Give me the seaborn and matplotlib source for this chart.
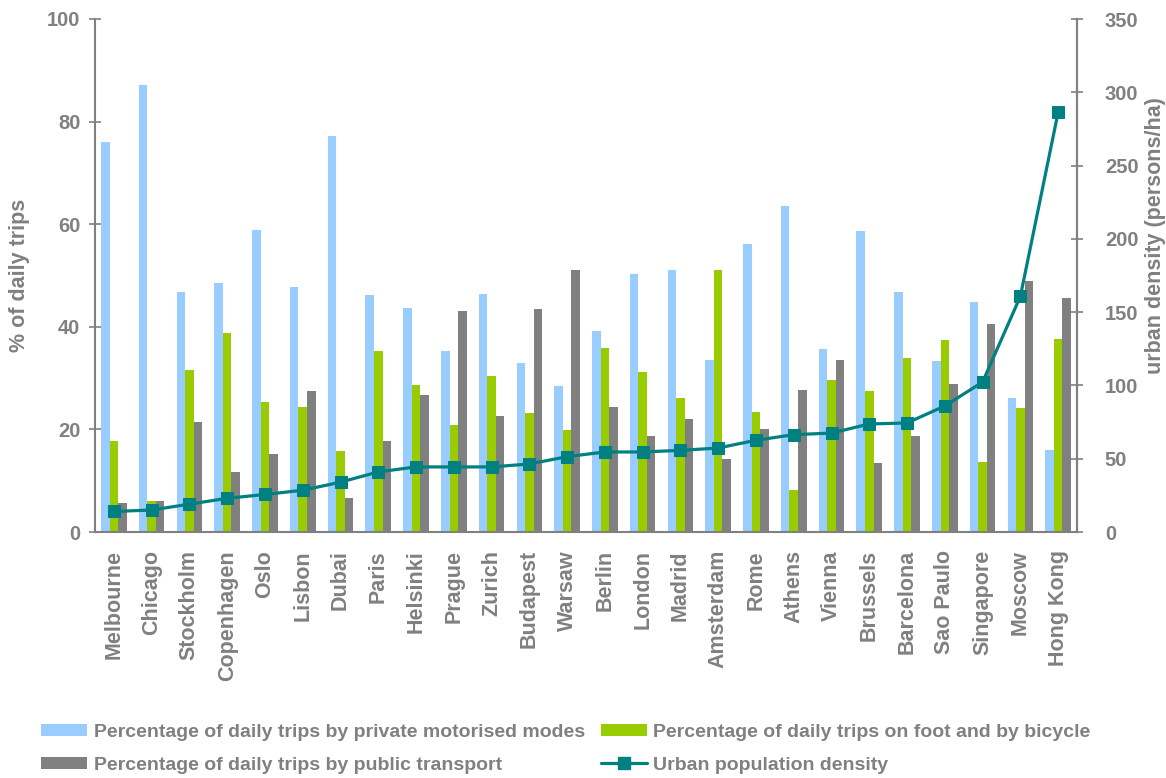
import numpy as np
import pandas as pd
import matplotlib
matplotlib.use("Agg")
import matplotlib.pyplot as plt
from matplotlib.patches import Patch
from matplotlib.lines import Line2D
import seaborn as sns

cities = ["Melbourne", "Chicago", "Stockholm", "Copenhagen", "Oslo", "Lisbon", "Dubai",
          "Paris", "Helsinki", "Prague", "Zurich", "Budapest", "Warsaw", "Berlin",
          "London", "Madrid", "Amsterdam", "Rome", "Athens", "Vienna", "Brussels",
          "Barcelona", "Sao Paulo", "Singapore", "Moscow", "Hong Kong"]

private_motorised = [76.1, 87.2, 46.8, 48.6, 58.9, 47.8, 77.1, 46.2, 43.7, 35.3, 46.3,
                     33.0, 28.5, 39.1, 50.2, 51.1, 33.6, 56.2, 63.6, 35.7, 58.7, 46.7,
                     33.4, 44.9, 26.1, 16.0]
foot_bicycle = [17.7, 6.0, 31.5, 38.8, 25.4, 24.4, 15.8, 35.3, 28.7, 20.9, 30.5, 23.1,
                19.8, 35.9, 31.1, 26.2, 51.1, 23.3, 8.1, 29.6, 27.4, 34.0, 37.5, 13.6,
                24.2, 37.7]
public_transport = [5.6, 6.0, 21.5, 11.7, 15.3, 27.4, 6.7, 17.7, 26.8, 43.1, 22.7, 43.5,
                    51.1, 24.4, 18.8, 22.1, 14.3, 20.1, 27.6, 33.6, 13.5, 18.8, 28.8,
                    40.6, 49.0, 45.7]
density = [14, 15, 19, 23, 25.6, 28.5, 34, 41, 44.4, 44.4, 44.4, 46.4, 51.4, 54.6, 54.6,
           55.7, 57.3, 62.6, 66.4, 67.5, 73.7, 74.4, 86, 102.3, 160.7, 286.3]

series_names = ["Percentage of daily trips by private motorised modes",
                "Percentage of daily trips on foot and by bicycle",
                "Percentage of daily trips by public transport"]
line_name = "Urban population density"
left_title = "% of daily trips"
right_title = "urban density (persons/ha)"
left_ticks = [0, 20, 40, 60, 80, 100]
right_ticks = [0, 50, 100, 150, 200, 250, 300, 350]

BLUE, GREEN, GREY, TEAL = "#99CCFF", "#99CC00", "#808080", "#008080"
TXT = "#808080"
W, H = 1166, 778

sns.set_theme(style="white")
plt.rcParams["font.family"] = ["Liberation Sans", "DejaVu Sans"]
plt.rcParams["font.weight"] = "bold"

df = pd.DataFrame({
    "city": cities * 3,
    "mode": np.repeat(series_names, len(cities)),
    "pct": private_motorised + foot_bicycle + public_transport,
})

fig = plt.figure(figsize=(W / 100, H / 100), dpi=100)
ax = fig.add_axes([95 / W, 1 - 532 / H, (1077 - 95) / W, (532 - 19) / H])

# grouped bars: one colour per travel mode
sns.barplot(data=df, x="city", y="pct", hue="mode", hue_order=series_names,
            palette=[BLUE, GREEN, GREY], saturation=1, width=0.68, gap=0,
            errorbar=None, ax=ax, legend=False, linewidth=0)

n = len(cities)
ax.set_xlim(-0.5, n - 0.5)
ax.set_ylim(0, 100)
ax.set_yticks(left_ticks)
ax.set_yticklabels([str(t) for t in left_ticks])
ax.set_xticks(np.arange(n))
ax.set_xticklabels(cities, rotation=90, fontsize=15.5, fontweight="bold", color=TXT)
ax.set_xticks(np.arange(n + 1) - 0.5, minor=True)
ax.tick_params(axis="x", which="major", length=0, pad=13)
ax.tick_params(axis="x", which="minor", direction="inout", length=10, width=1.2, color=TXT)
ax.tick_params(axis="y", direction="inout", length=8, width=1.2, color=TXT,
               labelsize=14.5, labelcolor=TXT, pad=6.5)
for lbl in ax.get_yticklabels():
    lbl.set_fontweight("bold")
ax.set_xlabel("")
ax.set_ylabel("")
for side in ["left", "bottom", "right"]:
    ax.spines[side].set_color(TXT)
    ax.spines[side].set_linewidth(1.5)
ax.spines["top"].set_visible(False)

# density line on the secondary axis
ax2 = ax.twinx()
sns.lineplot(x=np.arange(n), y=density, ax=ax2, color=TEAL, linewidth=2.3,
             marker="s", markersize=9, markeredgecolor=TEAL)
ax2.set_ylim(0, 350)
ax2.set_yticks(right_ticks)
ax2.set_yticklabels([str(t) for t in right_ticks])
ax2.tick_params(axis="y", direction="inout", length=8, width=1.2, color=TXT,
                labelsize=14.5, labelcolor=TXT, pad=16)
for lbl in ax2.get_yticklabels():
    lbl.set_fontweight("bold")
ax2.set_ylabel("")
for side in ["left", "top", "bottom"]:
    ax2.spines[side].set_visible(False)
ax2.spines["right"].set_color(TXT)
ax2.spines["right"].set_linewidth(1.5)
ax2.set_xlim(-0.5, n - 0.5)

# axis titles
fig.text(19.5 / W, 1 - 275 / H, left_title, rotation=90, ha="center", va="center",
         fontsize=15.5, fontweight="bold", color=TXT)
fig.text(1155 / W, 1 - 236 / H, right_title, rotation=90, ha="center", va="center",
         fontsize=15.5, fontweight="bold", color=TXT)

handles = [Patch(facecolor=BLUE, edgecolor="none"),
           Patch(facecolor=GREY, edgecolor="none"),
           Patch(facecolor=GREEN, edgecolor="none"),
           Line2D([], [], color=TEAL, linewidth=2.3, marker="s", markersize=8)]
labels = [series_names[0], series_names[2], series_names[1], line_name]
leg = fig.legend(handles, labels, ncol=2, loc="upper left",
                 bbox_to_anchor=(41 / W, 1 - 724 / H), frameon=False,
                 borderpad=0, borderaxespad=0, handlelength=2.37, handleheight=0.6,
                 handletextpad=0.35, labelspacing=0.8, columnspacing=0.8,
                 prop={"size": 14, "weight": "bold"})
for t in leg.get_texts():
    t.set_color(TXT)

fig.savefig("out.png", dpi=100)
